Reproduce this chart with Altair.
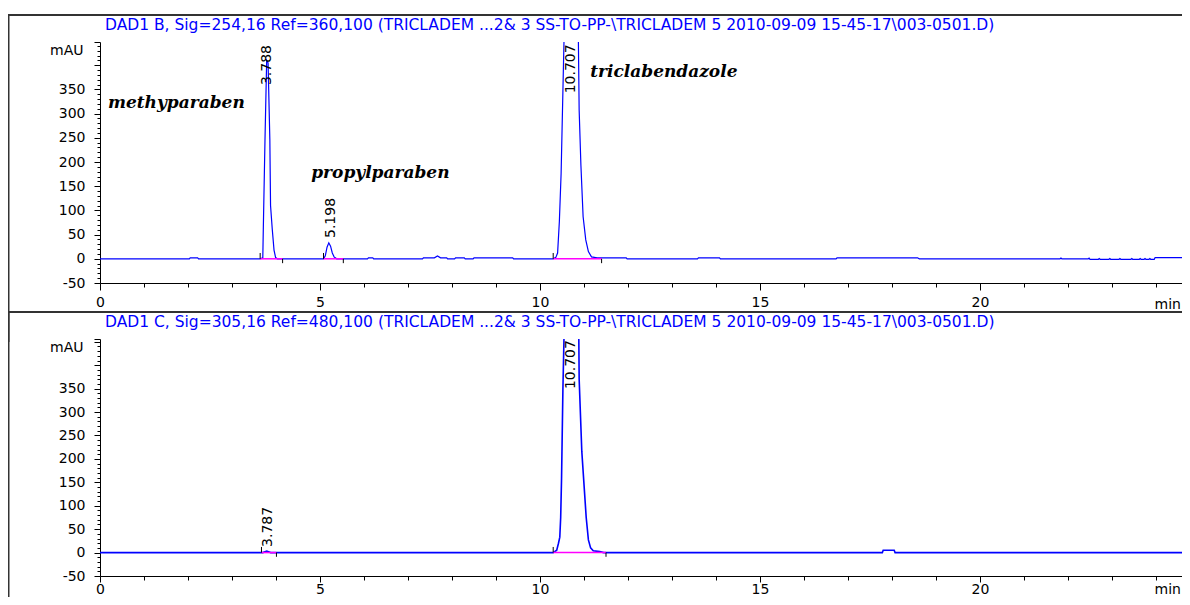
import altair as alt
import pandas as pd

FONT = "DejaVu Sans"
SERIF = "DejaVu Serif"
PLOT_W = 1082
X_MAX = PLOT_W / 44.0

top_title = "DAD1 B, Sig=254,16 Ref=360,100 (TRICLADEM ...2& 3 SS-TO-PP-\\TRICLADEM 5 2010-09-09 15-45-17\\003-0501.D)"
bot_title = "DAD1 C, Sig=305,16 Ref=480,100 (TRICLADEM ...2& 3 SS-TO-PP-\\TRICLADEM 5 2010-09-09 15-45-17\\003-0501.D)"

# (time [min], signal [mAU])
top_trace = [
    (0.0, 0), (2.03, 0), (2.05, 2), (2.22, 2), (2.24, 0),
    (3.64, 0), (3.70, 2), (3.712, 64), (3.75, 247), (3.788, 410), (3.82, 405), (3.86, 247),
    (3.876, 110), (3.916, 60), (3.955, 18), (3.99, 3), (4.03, 0),
    (5.08, 0), (5.12, 6), (5.16, 24), (5.20, 33), (5.24, 26), (5.28, 12), (5.32, 4), (5.38, 0),
    (6.08, 0), (6.10, 2), (6.20, 2), (6.22, 0),
    (7.33, 0), (7.35, 2), (7.60, 2), (7.67, 6), (7.74, 2), (7.88, 2), (7.90, 0),
    (8.06, 0), (8.08, 2), (8.28, 2), (8.30, 0), (8.48, 0), (8.50, 2), (9.38, 2), (9.40, 0),
    (10.30, 0), (10.36, 3), (10.40, 12), (10.44, 77), (10.48, 177), (10.52, 344), (10.55, 470),
    (10.71, 1200), (10.87, 470), (10.89, 307), (10.93, 193), (10.98, 87), (11.04, 39),
    (11.10, 15), (11.17, 4), (11.30, 2), (11.96, 2), (11.98, 0),
    (13.58, 0), (13.60, 2), (14.08, 2), (14.10, 0), (16.73, 0), (16.75, 2), (18.58, 2), (18.62, 0),
    (21.82, 0), (21.84, 1.5), (21.86, 0), (22.46, 0), (22.48, 1.5), (22.50, -1),
    (22.69, -1), (22.71, 0.5), (22.73, -1), (22.93, -1), (22.95, 0.5), (22.97, -1),
    (23.16, -1), (23.18, 0.5), (23.20, -1), (23.43, -1), (23.45, 0.5), (23.47, -1),
    (23.62, -1), (23.64, 0.5), (23.66, -1), (23.73, -1), (23.75, 0.5), (23.77, -1),
    (23.84, -1), (23.86, 0.5), (23.88, -1), (23.96, -1), (23.98, 2.5), (24.77, 2.5),
]
bot_trace = [
    (0.0, 0), (3.70, 0), (3.75, 2), (3.79, 3), (3.83, 2), (3.88, 0),
    (10.30, 0), (10.38, 5), (10.42, 20), (10.45, 33), (10.47, 75), (10.49, 159), (10.52, 345),
    (10.55, 480), (10.71, 1300), (10.88, 480), (10.89, 370), (10.95, 216), (11.05, 75),
    (11.10, 27), (11.15, 10), (11.21, 4), (11.36, 2), (11.45, 0),
    (17.78, 0), (17.80, 5), (18.05, 5), (18.07, 0), (24.77, 0),
]

# integration baselines (start, end) in minutes
top_baselines = [(3.64, 4.15), (5.08, 5.53), (10.30, 11.40)]
bot_baselines = [(3.67, 4.01), (10.30, 11.50)]

# retention-time labels (text, time, mAU at the foot of the label)
top_rt = [("3.788", 3.80, 359), ("5.198", 5.24, 43), ("10.707", 10.70, 342)]
bot_rt = [("3.787", 3.81, 12), ("10.707", 10.70, 349)]

# compound names (text, time, mAU at baseline of text)
top_names = [("methyparaben", 0.18, 311), ("propylparaben", 4.80, 167), ("triclabendazole", 11.14, 376)]

x_ticks = list(range(0, 25))
y_top_max = 448
y_bot_max = 456
y_ticks_top = list(range(-50, 441, 10)) + [y_top_max]
y_ticks_bot = list(range(-50, 451, 10)) + [y_bot_max]


def panel(title, trace, baselines, rts, y_max, y_ticks, height, xtick, xpad, min_y,
          names=None, lw=1.2):
    xs = alt.Scale(domain=[0, X_MAX], nice=False, zero=False)
    ys = alt.Scale(domain=[-50, y_max], nice=False, zero=False)
    xaxis = alt.Axis(
        values=x_ticks, grid=False, labelOverlap=False, labelFlush=False,
        labelExpr="datum.value % 5 === 0 ? '' + datum.value : ''",
        tickSize={"condition": {"test": "datum.value % 5 === 0", "value": xtick}, "value": 4},
        labelPadding=xpad, labelFont=FONT, labelFontSize=14, labelColor="black",
        tickColor="black", domainColor="black", title="min", titleX=1054, titleY=min_y,
        titleAlign="left", titleBaseline="middle", titleFont=FONT, titleFontSize=14,
        titleFontWeight="normal", titleColor="black",
    )
    yaxis = alt.Axis(
        values=y_ticks, grid=False, labelOverlap=False, labelFlush=False,
        labelExpr="datum.value % 50 === 0 && datum.value <= 350 ? '' + datum.value : ''",
        tickSize={"condition": {"test": "datum.value % 50 === 0 || datum.value > 445", "value": 6}, "value": 3},
        labelPadding=9, labelFont=FONT, labelFontSize=14, labelColor="black",
        tickColor="black", domainColor="black", title="mAU", titleAngle=0, titleX=-17, titleY=8,
        titleAlign="right", titleBaseline="middle", titleFont=FONT, titleFontSize=14,
        titleFontWeight="normal", titleColor="black",
    )
    X = alt.X("t:Q", scale=xs, axis=xaxis)
    Y = alt.Y("v:Q", scale=ys, axis=yaxis)

    dummy = pd.DataFrame({"a": [0]})
    frame = alt.Chart(dummy).mark_rule(color="#333333", strokeWidth=2).encode(
        x=alt.value(-91.5), y=alt.value(-27.5), y2=alt.value(300)
    )
    topline = alt.Chart(dummy).mark_rule(color="#333333", strokeWidth=2).encode(
        x=alt.value(-92), x2=alt.value(PLOT_W + 5), y=alt.value(-27)
    )
    ttl = alt.Chart(pd.DataFrame({"s": [title]})).mark_text(
        align="left", baseline="alphabetic", font=FONT, fontSize=15.5, color="#0000ff"
    ).encode(x=alt.value(5), y=alt.value(-12), text="s:N")

    tr = pd.DataFrame(trace, columns=["t", "v"])
    line = alt.Chart(tr).mark_line(color="#0000ff", strokeWidth=lw, clip=True).encode(x=X, y=Y)

    bl = pd.DataFrame([(a, b, 0) for a, b in baselines], columns=["t", "t2", "v"])
    blr = alt.Chart(bl).mark_rule(color="#ff00ff", strokeWidth=1.5, clip=True).encode(
        x=X, x2="t2:Q", y=Y
    )
    ticks = pd.DataFrame(
        [(a, 0, 12) for a, b in baselines] + [(b, 0, -9) for a, b in baselines],
        columns=["t", "v", "v2"],
    )
    tk = alt.Chart(ticks).mark_rule(color="black", strokeWidth=1).encode(x=X, y=Y, y2="v2:Q")

    rt = pd.DataFrame(rts, columns=["s", "t", "v"])
    rtl = alt.Chart(rt).mark_text(
        angle=270, align="left", baseline="middle", font=FONT, fontSize=14, color="black"
    ).encode(x=X, y=Y, text="s:N")

    layers = [frame, topline, line, blr, tk, rtl, ttl]
    if names:
        nm = pd.DataFrame(names, columns=["s", "t", "v"])
        layers.append(
            alt.Chart(nm).mark_text(
                align="left", baseline="alphabetic", font=SERIF, fontStyle="italic",
                fontWeight="bold", fontSize=17, color="black"
            ).encode(x=X, y=Y, text="s:N")
        )
    return alt.layer(*layers).properties(width=PLOT_W, height=height)


top = panel(top_title, top_trace, top_baselines, top_rt, y_top_max, y_ticks_top,
            241, 7, 5, 21, top_names, lw=1.2)
bot = panel(bot_title, bot_trace, bot_baselines, bot_rt, y_bot_max, y_ticks_bot,
            237, 6, 0, 13, None, lw=1.6)

chart = alt.vconcat(top, bot, spacing=56, bounds="flush").properties(
    autosize=alt.AutoSizeParams(type="none"),
    padding={"left": 92, "top": 34, "right": 0, "bottom": 555},
    background="white",
).configure_view(stroke="transparent")

chart.save("out.html", embed_options={"renderer": "svg", "actions": False})
